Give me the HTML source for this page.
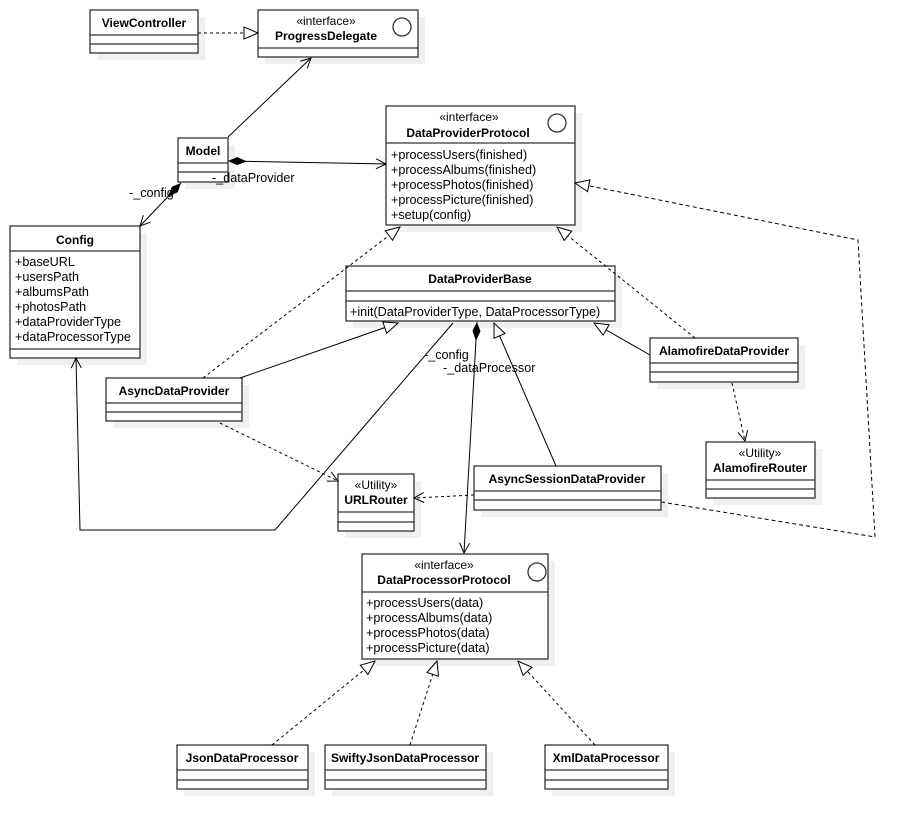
<!DOCTYPE html>
<html><head><style>body{margin:0;background:#fff}svg{display:block}text{font-family:"Liberation Sans",Arial,sans-serif;font-size:12.6px;fill:#000}.b{font-weight:bold;font-size:12px}.s{font-size:12px}</style></head><body>
<svg width="915" height="830" viewBox="0 0 915 830">
<defs>
<marker id="tri" markerWidth="16" markerHeight="14" refX="15" refY="7" orient="auto" markerUnits="userSpaceOnUse"><path d="M1,1 L15,7 L1,13 Z" fill="#fff" stroke="#000" stroke-width="1"/></marker>
<marker id="op" markerWidth="12" markerHeight="12" refX="11" refY="6" orient="auto" markerUnits="userSpaceOnUse"><path d="M1,1 L11,6 L1,11" fill="none" stroke="#000" stroke-width="1"/></marker>
<marker id="dia" markerWidth="22" markerHeight="10" refX="1" refY="5" orient="auto" markerUnits="userSpaceOnUse"><path d="M1,5 L10,1 L20,5 L10,9 Z" fill="#000"/></marker>
</defs>
<g fill="#f0f0f0">
<rect x="97" y="17" width="108" height="43"/><rect x="265" y="17" width="160" height="47"/>
<rect x="185" y="145" width="50" height="44"/><rect x="393" y="113" width="189" height="119"/>
<rect x="17" y="233" width="130" height="132"/><rect x="353" y="273" width="269" height="55"/>
<rect x="657" y="345" width="148" height="44"/><rect x="113" y="385" width="136" height="43"/>
<rect x="713" y="449" width="109" height="56"/><rect x="345" y="481" width="76" height="57"/>
<rect x="481" y="473" width="187" height="44"/><rect x="369" y="561" width="186" height="105"/>
<rect x="184" y="752" width="131" height="44"/><rect x="332" y="752" width="161" height="44"/><rect x="552" y="752" width="123" height="44"/>
</g>
<g fill="#fff" stroke="#333" stroke-width="1.3">
<rect x="90" y="10" width="108" height="43"/><path d="M90,35H198M90,44H198"/>
<rect x="258" y="10" width="160" height="47"/><path d="M258,48H418"/>
<rect x="178" y="138" width="50" height="44"/><path d="M178,163H228M178,172H228"/>
<rect x="386" y="106" width="189" height="119"/><path d="M386,143H575"/>
<rect x="10" y="226" width="130" height="132"/><path d="M10,251H140M10,349H140"/>
<rect x="346" y="266" width="269" height="55"/><path d="M346,291H615M346,301H615"/>
<rect x="650" y="338" width="148" height="44"/><path d="M650,363H798M650,372H798"/>
<rect x="106" y="378" width="136" height="43"/><path d="M106,403H242M106,412H242"/>
<rect x="706" y="442" width="109" height="56"/><path d="M706,480H815M706,489H815"/>
<rect x="338" y="474" width="76" height="57"/><path d="M338,512H414M338,522H414"/>
<rect x="474" y="466" width="187" height="44"/><path d="M474,491H661M474,500H661"/>
<rect x="362" y="554" width="186" height="105"/><path d="M362,592H548"/>
<rect x="177" y="745" width="131" height="44"/><path d="M177,770H308M177,780H308"/>
<rect x="325" y="745" width="161" height="44"/><path d="M325,770H486M325,780H486"/>
<rect x="545" y="745" width="123" height="44"/><path d="M545,770H668M545,780H668"/>
<circle cx="402" cy="27" r="9"/><circle cx="557" cy="123" r="9"/><circle cx="537" cy="572" r="9"/>
</g>
<g fill="none" stroke="#000" stroke-width="1">
<path d="M198,33H258" stroke-dasharray="3,3" marker-end="url(#tri)"/>
<path d="M228,137L311,58" marker-end="url(#op)"/>
<path d="M228,161L386,164" marker-start="url(#dia)" marker-end="url(#op)"/>
<path d="M181,183L140,226" marker-start="url(#dia)" marker-end="url(#op)"/>
<path d="M203,378L400,227" stroke-dasharray="3,3" marker-end="url(#tri)"/>
<path d="M695,338L557,227" stroke-dasharray="3,3" marker-end="url(#tri)"/>
<path d="M661,502L875,537L858,240L575,183" stroke-dasharray="4,3" marker-end="url(#tri)"/>
<path d="M240,378L398,323" marker-end="url(#tri)"/>
<path d="M650,355L594,323" marker-end="url(#tri)"/>
<path d="M556,466L494,323" marker-end="url(#tri)"/>
<path d="M477,322L464,553" marker-start="url(#dia)" marker-end="url(#op)"/>
<path d="M453,323L275,530H80L76,358" marker-end="url(#op)"/>
<path d="M220,423L338,481" stroke-dasharray="3,3" marker-end="url(#op)"/>
<path d="M474,495L414,498" stroke-dasharray="3,3" marker-end="url(#op)"/>
<path d="M732,383L745,441" stroke-dasharray="3,3" marker-end="url(#op)"/>
<path d="M272,745L375,661" stroke-dasharray="3,3" marker-end="url(#tri)"/>
<path d="M410,745L437,661" stroke-dasharray="3,3" marker-end="url(#tri)"/>
<path d="M595,745L518,661" stroke-dasharray="3,3" marker-end="url(#tri)"/>
</g>
<g text-anchor="middle">
<text class="b" x="144" y="27">ViewController</text>
<text class="s" x="326" y="25">«interface»</text><text class="b" x="326" y="40">ProgressDelegate</text>
<text class="b" x="203" y="155">Model</text>
<text class="s" x="469" y="121">«interface»</text><text class="b" x="468" y="137">DataProviderProtocol</text>
<text class="b" x="75" y="244">Config</text>
<text class="b" x="480" y="283">DataProviderBase</text>
<text class="b" x="724" y="355">AlamofireDataProvider</text>
<text class="b" x="174" y="395">AsyncDataProvider</text>
<text class="s" x="760" y="457">«Utility»</text><text class="b" x="760" y="472">AlamofireRouter</text>
<text class="s" x="376" y="489">«Utility»</text><text class="b" x="376" y="504">URLRouter</text>
<text class="b" x="567" y="483">AsyncSessionDataProvider</text>
<text class="s" x="444" y="569">«interface»</text><text class="b" x="444" y="584">DataProcessorProtocol</text>
<text class="b" x="242" y="762">JsonDataProcessor</text>
<text class="b" x="405" y="762">SwiftyJsonDataProcessor</text>
<text class="b" x="606" y="762">XmlDataProcessor</text>
</g>
<text x="391" y="159">+processUsers(finished)</text>
<text x="391" y="174">+processAlbums(finished)</text>
<text x="391" y="189">+processPhotos(finished)</text>
<text x="391" y="204">+processPicture(finished)</text>
<text x="391" y="219">+setup(config)</text>
<text x="15" y="266">+baseURL</text><text x="15" y="281">+usersPath</text><text x="15" y="296">+albumsPath</text><text x="15" y="311">+photosPath</text><text x="15" y="326">+dataProviderType</text><text x="15" y="341">+dataProcessorType</text>
<text x="350" y="316">+init(DataProviderType, DataProcessorType)</text>
<text x="366" y="607">+processUsers(data)</text><text x="366" y="622">+processAlbums(data)</text><text x="366" y="637">+processPhotos(data)</text><text x="366" y="652">+processPicture(data)</text>
<text x="212" y="182">-_dataProvider</text>
<text x="129" y="197">-_config</text>
<text x="424" y="359">-_config</text>
<text x="443" y="372">-_dataProcessor</text>
</svg>
</body></html>
